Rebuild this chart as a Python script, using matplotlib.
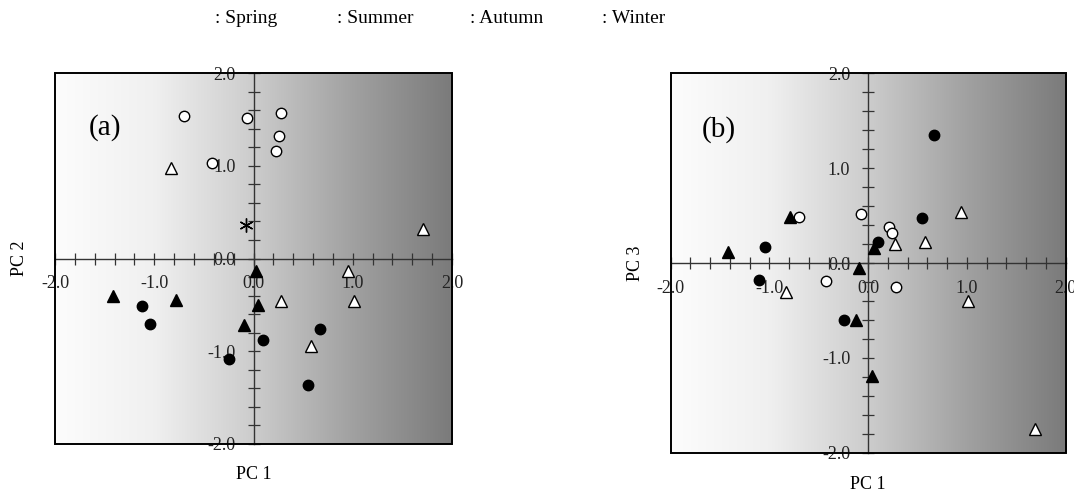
import numpy as np
import matplotlib
matplotlib.use("Agg")
import matplotlib.pyplot as plt
from matplotlib.colors import LinearSegmentedColormap
from matplotlib.ticker import MultipleLocator, FixedLocator, FuncFormatter
from matplotlib.patches import Rectangle

plt.rcParams['font.family'] = ['Liberation Serif', 'DejaVu Serif']

# ---- data: panel (a) PC1 vs PC2 ----
a_open_circle_x = [-0.70, -0.07, 0.28, 0.26, 0.23, -0.42]
a_open_circle_y = [1.54, 1.51, 1.57, 1.32, 1.16, 1.03]
a_open_tri_x = [-0.83, 1.71, 0.95, 0.28, 1.01, 0.58]
a_open_tri_y = [0.98, 0.32, -0.13, -0.46, -0.46, -0.94]
a_fill_circle_x = [-1.12, -1.04, 0.10, -0.25, 0.67, 0.55]
a_fill_circle_y = [-0.51, -0.71, -0.88, -1.08, -0.76, -1.36]
a_fill_tri_x = [-1.42, -0.78, 0.05, -0.10, 0.03]
a_fill_tri_y = [-0.40, -0.45, -0.50, -0.72, -0.13]
a_star_x = [-0.08]
a_star_y = [0.36]

# ---- data: panel (b) PC1 vs PC3 ----
b_fill_circle_x = [0.67, 0.54, -1.05, 0.10, -1.11, -0.25]
b_fill_circle_y = [1.35, 0.47, 0.17, 0.22, -0.18, -0.60]
b_fill_tri_x = [-0.79, -1.42, 0.06, -0.09, -0.12, 0.04]
b_fill_tri_y = [0.49, 0.12, 0.16, -0.05, -0.60, -1.19]
b_open_circle_x = [-0.70, -0.07, 0.21, 0.24, -0.43, 0.28]
b_open_circle_y = [0.49, 0.52, 0.38, 0.32, -0.19, -0.25]
b_open_tri_x = [0.94, 0.27, 0.58, -0.83, 1.01, 1.69]
b_open_tri_y = [0.54, 0.20, 0.22, -0.31, -0.40, -1.75]

seasons = [": Spring", ": Summer", ": Autumn", ": Winter"]
major_ticks = [-2.0, -1.0, 0.0, 1.0, 2.0]

cmap = LinearSegmentedColormap.from_list(
    "bg", [(0.0, (0.99,)*3), (0.25, (0.94,)*3), (0.5, (0.80,)*3),
           (0.75, (0.63,)*3), (1.0, (0.48,)*3)])

fig = plt.figure(figsize=(10.74, 4.93), dpi=100)
axA = fig.add_axes([0.0512, 0.0994, 0.3697, 0.7525])
axB = fig.add_axes([0.6245, 0.0817, 0.3678, 0.7696])


def style(ax, ylabel, tag, tagpos):
    ax.set_xlim(-2, 2)
    ax.set_ylim(-2, 2)
    grad = np.linspace(0, 1, 256).reshape(1, -1)
    ax.imshow(grad, extent=[-2, 2, -2, 2], aspect='auto', cmap=cmap,
              vmin=0, vmax=1, zorder=0, interpolation='bilinear')
    for s in ['top', 'right']:
        ax.spines[s].set_visible(False)
    for s in ['left', 'bottom']:
        ax.spines[s].set_position(('data', 0))
        ax.spines[s].set_color('#333333')
        ax.spines[s].set_linewidth(1.0)
        ax.spines[s].set_zorder(2)
    ax.add_patch(Rectangle((0, 0), 1, 1, transform=ax.transAxes, fill=False,
                           ec='black', lw=1.4, zorder=6, clip_on=False))
    ax.xaxis.set_major_locator(FixedLocator(major_ticks))
    ax.yaxis.set_major_locator(FixedLocator(major_ticks))
    ax.xaxis.set_minor_locator(MultipleLocator(0.2))
    ax.yaxis.set_minor_locator(MultipleLocator(0.2))
    fmt = FuncFormatter(lambda v, p: f"{v:.1f}")
    ax.xaxis.set_major_formatter(fmt)
    ax.yaxis.set_major_formatter(fmt)
    ax.tick_params(which='both', direction='inout', length=8, width=0.9,
                   color='#333333', labelsize=13, labelcolor='#222222')
    ax.tick_params(axis='x', pad=8)
    ax.tick_params(axis='y', pad=9)
    ax.text(0.5, -0.083, "PC 1", transform=ax.transAxes, ha='center',
            va='center', fontsize=13)
    ax.text(-0.089, 0.5, ylabel, transform=ax.transAxes, ha='center',
            va='center', rotation=90, fontsize=13)
    ax.text(tagpos[0], tagpos[1], tag, transform=ax.transAxes, ha='center',
            va='center', fontsize=21)


style(axA, "PC 2", "(a)", (0.125, 0.852))
style(axB, "PC 3", "(b)", (0.121, 0.853))

circ = dict(marker='o', ms=7.5, mew=1.0, mec='black', linestyle='none', zorder=5)
tri = dict(marker='^', ms=8.5, mew=1.0, mec='black', linestyle='none', zorder=5)

axA.plot(a_open_circle_x, a_open_circle_y, mfc='white', **circ)
axA.plot(a_open_tri_x, a_open_tri_y, mfc='white', **tri)
axA.plot(a_fill_circle_x, a_fill_circle_y, mfc='black', **circ)
axA.plot(a_fill_tri_x, a_fill_tri_y, mfc='black', **tri)
axA.plot(a_star_x, a_star_y, marker=(6, 2, 0), ms=10, mew=1.0, color='black',
         linestyle='none', zorder=5)

axB.plot(b_open_circle_x, b_open_circle_y, mfc='white', **circ)
axB.plot(b_open_tri_x, b_open_tri_y, mfc='white', **tri)
axB.plot(b_fill_circle_x, b_fill_circle_y, mfc='black', **circ)
axB.plot(b_fill_tri_x, b_fill_tri_y, mfc='black', **tri)

legend_x = [0.2002, 0.3135, 0.4376, 0.5602]
for lx, s in zip(legend_x, seasons):
    fig.text(lx, 0.962, s, ha='left', va='center', fontsize=14)

fig.savefig("out.png", dpi=100)
